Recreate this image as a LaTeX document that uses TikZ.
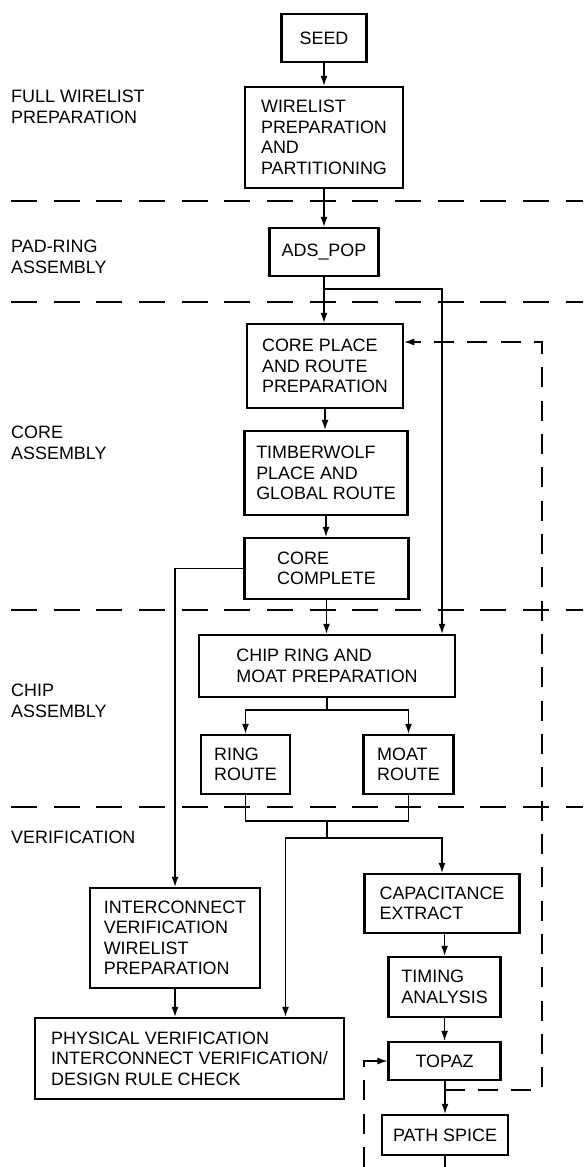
\documentclass[tikz,border=0pt]{standalone}
\usepackage{fontspec}
\setmainfont{Liberation Sans}
\usetikzlibrary{arrows.meta}

\begin{document}
\begin{tikzpicture}
  [x=0.03cm,y=-0.03cm,font=\fontsize{15.3}{17.5}\selectfont,
   box/.style={draw,line width=2.2pt,align=left,inner sep=0pt},
   stage/.style={anchor=west,align=left,inner sep=0pt},
   wire/.style={line width=1pt},
   flow/.style={wire,-{Latex[length=8.5pt,width=6pt]}},
   retry/.style={flow,dash pattern=on 0.6cm off 0.4cm},
   divider/.style={line width=1pt,dash pattern=on 0.78cm off 0.5cm}]
  \useasboundingbox (0,0) rectangle (583,1167);

  % section borders and names
  \foreach \y in {201,302,610,807}
    \draw[divider] (11,\y) -- (583,\y);
  \node[stage] (fullwl)  at (11,107) {FULL WIRELIST\\PREPARATION};
  \node[stage] (padring) at (11,257) {PAD-RING\\ASSEMBLY};
  \node[stage] (coreasm) at (11,443) {CORE\\ASSEMBLY};
  \node[stage] (chipasm) at (11,701) {CHIP\\ASSEMBLY};
  \node[stage] (verif)   at (11,837) {VERIFICATION};

  % steps
  \node[box,minimum width=2.55cm,minimum height=1.44cm] (seed)   at (324,38)     {SEED};
  \node[box,minimum width=4.74cm,minimum height=3.03cm] (wlprep) at (324,137.5)  {WIRELIST\\PREPARATION\\AND\\PARTITIONING};
  \node[box,minimum width=3.27cm,minimum height=1.44cm] (adspop) at (324,252)    {ADS\_POP};
  \node[box,minimum width=4.68cm,minimum height=2.52cm] (cprep)  at (325,366)    {CORE PLACE\\AND ROUTE\\PREPARATION};
  \node[box,minimum width=4.89cm,minimum height=2.52cm] (twolf)  at (326,473)    {TIMBERWOLF\\PLACE AND\\GLOBAL ROUTE};
  \node[box,minimum width=4.92cm,minimum height=1.83cm] (ccomp)  at (326.5,568.5){CORE\\COMPLETE};
  \node[box,minimum width=7.68cm,minimum height=1.86cm] (crmp)   at (327,666)    {CHIP RING AND\\MOAT PREPARATION};
  \node[box,minimum width=2.67cm,minimum height=1.77cm] (rroute) at (245.5,764.5){RING\\ROUTE};
  \node[box,minimum width=2.70cm,minimum height=1.77cm] (mroute) at (408.5,764.5){MOAT\\ROUTE};
  \node[box,minimum width=4.65cm,minimum height=1.77cm] (cap)    at (442,903.5)  {CAPACITANCE\\EXTRACT};
  \node[box,minimum width=5.10cm,minimum height=3.00cm] (ivwp)   at (175,938)    {INTERCONNECT\\VERIFICATION\\WIRELIST\\PREPARATION};
  \node[box,minimum width=9.27cm,minimum height=2.43cm] (pv)     at (189.5,1058.5){PHYSICAL VERIFICATION\\INTERCONNECT VERIFICATION/\\DESIGN RULE CHECK};
  \node[box,minimum width=3.36cm,minimum height=1.80cm] (timing) at (444.6,987)  {TIMING\\ANALYSIS};
  \node[box,minimum width=3.36cm,minimum height=1.14cm] (topaz)  at (444.6,1061) {TOPAZ};
  \node[box,minimum width=3.78cm,minimum height=1.20cm] (pspice) at (445,1135)   {PATH SPICE};

  % main flow
  \foreach \from/\to in {seed/wlprep,wlprep/adspop,adspop/cprep,cprep/twolf,twolf/ccomp,ccomp/crmp}
    \draw[flow] (\from.south) -- (\from.south |- \to.north);
  \foreach \from/\to in {cap/timing,timing/topaz,topaz/pspice}
    \draw[flow] (\to.north |- \from.south) -- (\to.north);
  \draw[flow] (ivwp.south) -- (ivwp.south |- pv.north);

  \coordinate (padtap) at (324,289);
  \coordinate (padbus) at (442,289);
  \draw[flow] (padtap) -- (padbus) -- (padbus |- crmp.north);

  \draw[flow] (ccomp.west) -| (ivwp.north);

  \coordinate (chipsplit) at (327,710);
  \draw[wire] (crmp.south) -- (chipsplit);
  \draw[flow] (chipsplit) -| (rroute.north);
  \draw[flow] (chipsplit) -| (mroute.north);

  \coordinate (routejoin) at (327,821);
  \coordinate (verifsplit) at (327,838);
  \coordinate (pvbus) at (285.5,838);
  \draw[wire] (rroute.south) |- (routejoin) -| (mroute.south);
  \draw[wire] (routejoin) -- (verifsplit);
  \draw[flow] (verifsplit) -| (cap.north);
  \draw[flow] (verifsplit) -- (pvbus) -- (pvbus |- pv.north);

  % feedback
  \coordinate (fbtap) at (444.6,1090);
  \coordinate (fbturn) at (542,342);
  \draw[retry] (fbtap) -| (fbturn) -- (fbturn -| cprep.east);
  \coordinate (pathloop) at (364,1167);
  \draw[retry] (pathloop) |- (topaz.west);
  \coordinate (pathout) at (445,1167);
  \draw[wire] (pspice.south) -- (pspice.south |- pathout);
\end{tikzpicture}
\end{document}
